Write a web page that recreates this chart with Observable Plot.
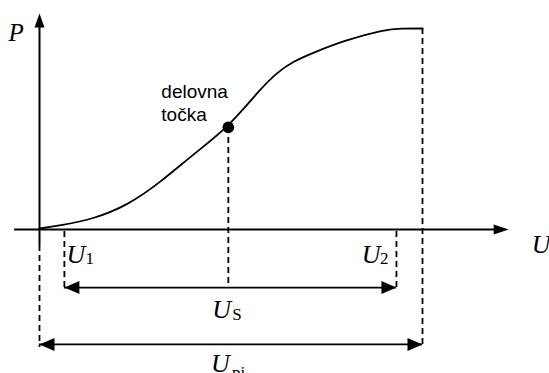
<!DOCTYPE html>
<html><head><meta charset="utf-8">
<script src="https://cdn.jsdelivr.net/npm/d3@7"></script>
<script src="https://cdn.jsdelivr.net/npm/@observablehq/plot@0.6"></script>
<style>html,body{margin:0;padding:0;background:#fff}svg{display:block}</style>
</head><body><div id="chart"></div>
<script>
// ---- data (U and P in relative units: U_pi = 100, P_max = 100) ----
const opU = 49.3, opP = 50.8;          // delovna točka
const curveU = [0, 5.5, 14.2, 22.9, 31.6, 40.3, opU, 57.7, 62.1, 66.4, 70.8, 79.4, 90.3, 94.3, 100];
const curveP = [0.5, 2.0, 5.3, 11.9, 23.5, 37.7, opP, 70.0, 78.3, 83.7, 87.4, 94.0, 99.5, 100, 100];
const U1 = 6.5, U2 = 93.2, Upi = 100;
const axisXStart = -6.5, axisXEnd = 122.5;
const axisYStart = -8, axisYEnd = 107.5;
const levelS = -28.9, levelPi = -57.2, levelPiDash = -58.7;
const dashU      = [0, U1, opU, U2, Upi];
const dashTop    = [axisYStart, -1, opP, -1, 100];
const dashBottom = [levelPiDash, levelS, levelS, levelS, levelPiDash];
const pointLabel = "delovna\ntočka";

const curve = curveU.map((u, i) => ({u, p: curveP[i]}));
const dashes = dashU.map((u, i) => ({u, top: dashTop[i], bottom: dashBottom[i]}));

// filled arrowhead symbols, tip at the anchor point
const head = (dx, dy, len, half) => ({draw(ctx) {
  const px = -dy, py = dx;
  ctx.moveTo(0, 0);
  ctx.lineTo(-dx * len + px * half, -dy * len + py * half);
  ctx.lineTo(-dx * len - px * half, -dy * len - py * half);
  ctx.closePath();
}});
const axisRight = head(1, 0, 15, 5), axisUp = head(0, -1, 14, 5);
const dimRight = head(1, 0, 15, 6.5), dimLeft = head(-1, 0, 15, 6.5);

const serif = "Liberation Serif, Times New Roman, serif";
const sans = "Liberation Sans, Arial, sans-serif";

const chart = Plot.plot({
  width: 549, height: 373,
  margin: 0,
  x: {domain: [-39 / 3.83, 510 / 3.83], axis: null},
  y: {domain: [-144 / 2.01, 229 / 2.01], axis: null},
  style: {background: "white"},
  marks: [
    // axes
    Plot.ruleY([0], {x1: axisXStart, x2: axisXEnd - 2, stroke: "black", strokeWidth: 2}),
    Plot.ruleX([0], {y1: axisYStart, y2: axisYEnd - 2, stroke: "black", strokeWidth: 2}),
    Plot.dot([[axisXEnd, 0]], {symbol: axisRight, fill: "black", stroke: "none"}),
    Plot.dot([[0, axisYEnd]], {symbol: axisUp, fill: "black", stroke: "none"}),
    // dashed projection lines
    Plot.ruleX(dashes, {x: "u", y1: "top", y2: "bottom", stroke: "black", strokeWidth: 1.8, strokeDasharray: "6,4"}),
    // dimension arrows
    Plot.ruleY([levelS], {x1: U1, x2: U2, stroke: "black", strokeWidth: 1.8}),
    Plot.ruleY([levelPi], {x1: 0, x2: Upi, stroke: "black", strokeWidth: 1.8}),
    Plot.dot([[U1, levelS], [0, levelPi]], {symbol: dimLeft, fill: "black", stroke: "none"}),
    Plot.dot([[U2, levelS], [Upi, levelPi]], {symbol: dimRight, fill: "black", stroke: "none"}),
    // characteristic
    Plot.line(curve, {x: "u", y: "p", curve: "basis", stroke: "black", strokeWidth: 1.8}),
    Plot.dot([[opU, opP]], {r: 5.8, fill: "black", stroke: "none"}),
    Plot.text([[opU, opP]], {text: [pointLabel], textAnchor: "start", lineAnchor: "bottom", lineHeight: 1.21, dx: -67, dy: -6, fontFamily: sans, fontSize: 19, fill: "black"}),
    // axis labels
    Plot.text([[0, axisYEnd]], {text: ["P"], textAnchor: "start", lineAnchor: "bottom", dx: -31, dy: 28, fontFamily: serif, fontStyle: "italic", fontSize: 25}),
    Plot.text([[axisXEnd, 0]], {text: ["U"], textAnchor: "start", lineAnchor: "bottom", dx: 23, dy: 23, fontFamily: serif, fontStyle: "italic", fontSize: 26}),
    // U1
    Plot.text([[U1, 0]], {text: ["U"], textAnchor: "start", lineAnchor: "bottom", dx: 2, dy: 33, fontFamily: serif, fontStyle: "italic", fontSize: 26}),
    Plot.text([[U1, 0]], {text: ["1"], textAnchor: "start", lineAnchor: "bottom", dx: 21, dy: 34, fontFamily: serif, fontSize: 17}),
    // U2
    Plot.text([[U2, 0]], {text: ["U"], textAnchor: "end", lineAnchor: "bottom", dx: -16, dy: 33, fontFamily: serif, fontStyle: "italic", fontSize: 26}),
    Plot.text([[U2, 0]], {text: ["2"], textAnchor: "end", lineAnchor: "bottom", dx: -8, dy: 34, fontFamily: serif, fontSize: 17}),
    // U_S
    Plot.text([[opU, levelS]], {text: ["U"], textAnchor: "start", lineAnchor: "bottom", dx: -16, dy: 30, fontFamily: serif, fontStyle: "italic", fontSize: 26}),
    Plot.text([[opU, levelS]], {text: ["S"], textAnchor: "start", lineAnchor: "bottom", dx: 4, dy: 32, fontFamily: serif, fontSize: 17}),
    // U_pi
    Plot.text([[Upi / 2, levelPi]], {text: ["U"], textAnchor: "start", lineAnchor: "bottom", dx: -20, dy: 28, fontFamily: serif, fontStyle: "italic", fontSize: 26}),
    Plot.text([[Upi / 2, levelPi]], {text: ["pi"], textAnchor: "start", lineAnchor: "bottom", dx: 1, dy: 34, fontFamily: serif, fontSize: 17})
  ]
});
document.getElementById("chart").append(chart);
</script>
</body></html>
